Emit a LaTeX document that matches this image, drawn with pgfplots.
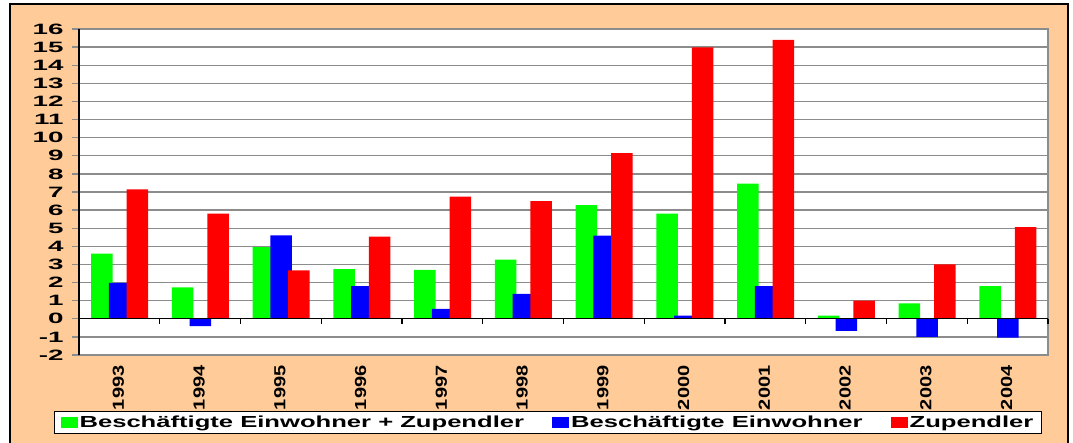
\documentclass[border=0pt]{standalone}
\usepackage{fontspec}
\setmainfont{Liberation Sans}
\newfontfamily\legfont{Liberation Sans}[FakeStretch=1.6]
\newfontfamily\yfont{Liberation Sans}[FakeStretch=1.85]
\newfontfamily\xfont{Liberation Sans}[FakeStretch=1.25]
\usepackage{pgfplots}
\usepackage{pgfplotstable}
\pgfplotsset{compat=1.18}
\definecolor{peach}{HTML}{FFCC99}
\definecolor{gridgray}{HTML}{8C8C8C}
\newcommand{\xl}{\xfont\bfseries\fontsize{16}{16}\selectfont}
\newcommand{\yl}{\yfont\bfseries\fontsize{15}{15}\selectfont}

\pgfplotstableread{
x g b r
0 3.60 1.98 7.15
1 1.74 -0.40 5.80
2 3.96 4.60 2.67
3 2.74 1.80 4.54
4 2.70 0.54 6.74
5 3.26 1.37 6.50
6 6.28 4.59 9.15
7 5.80 0.17 14.98
8 7.46 1.80 15.40
9 0.17 -0.67 1.00
10 0.85 -1.00 3.00
11 1.80 -1.04 5.06
}\datatable

\begin{document}
\begin{tikzpicture}
\useasboundingbox (0,0) rectangle (1073pt,443pt);
\draw[line width=2pt, fill=peach] (10pt,-10pt) rectangle (1068pt,439pt);
\begin{axis}[
  at={(79pt,88pt)}, anchor=south west,
  scale only axis, width=969pt, height=326pt,
  xmin=-0.5, xmax=11.5, ymin=-2, ymax=16,
  axis background/.style={fill=white},
  axis line style={draw=gridgray, line width=1.3pt},
  xtick={0,...,11},
  xticklabels={\xl 1993,\xl 1994,\xl 1995,\xl 1996,\xl 1997,\xl 1998,\xl 1999,\xl 2000,\xl 2001,\xl 2002,\xl 2003,\xl 2004},
  xticklabel style={rotate=90, anchor=east, yshift=1pt},
  xtick pos=bottom,
  ytick pos=left,
  major x tick style={draw=none},
  ytick={-2,...,16},
  yticklabel={\yl\pgfmathprintnumber{\tick}},
  tick align=outside, major tick length=7pt,
  y tick style={draw=gridgray, line width=1.3pt},
  yticklabel style={xshift=-5pt},
  /pgf/number format/assume math mode=true,
  ymajorgrids, grid style={draw=gridgray, line width=1.3pt},
  legend columns=3,
  legend style={at={(0.484,-0.207)}, anchor=center, draw=black, line width=1pt,
    fill=white, font=\legfont\bfseries\fontsize{16}{16}\selectfont,
    /tikz/every even column/.append style={column sep=26pt},
    inner xsep=6pt, inner ysep=2pt},
  legend image code/.code={\fill[#1] (0pt,-5.5pt) rectangle (17pt,5.5pt);},
  clip=false,
]
\addplot[ybar, bar width=0.266, bar shift=-0.217, fill=green, draw=none] table[x=x,y=g] {\datatable};
\addplot[ybar, bar width=0.266, bar shift=0.004, fill=blue, draw=none] table[x=x,y=b] {\datatable};
\addplot[ybar, bar width=0.266, bar shift=0.222, fill=red, draw=none] table[x=x,y=r] {\datatable};
\legend{Beschäftigte Einwohner + Zupendler, Beschäftigte Einwohner, Zupendler}
\draw[black, line width=1.3pt] (axis cs:-0.5,0) -- (axis cs:11.5,0);
\pgfplotsinvokeforeach{-0.5,0.5,...,11.5}{
  \draw[black, line width=1.2pt] (axis cs:#1,0) -- ([yshift=-5pt]axis cs:#1,0);
}
\draw[black, line width=1.5pt] (rel axis cs:0,0) -- (rel axis cs:0,1);
\end{axis}
\end{tikzpicture}
\end{document}
